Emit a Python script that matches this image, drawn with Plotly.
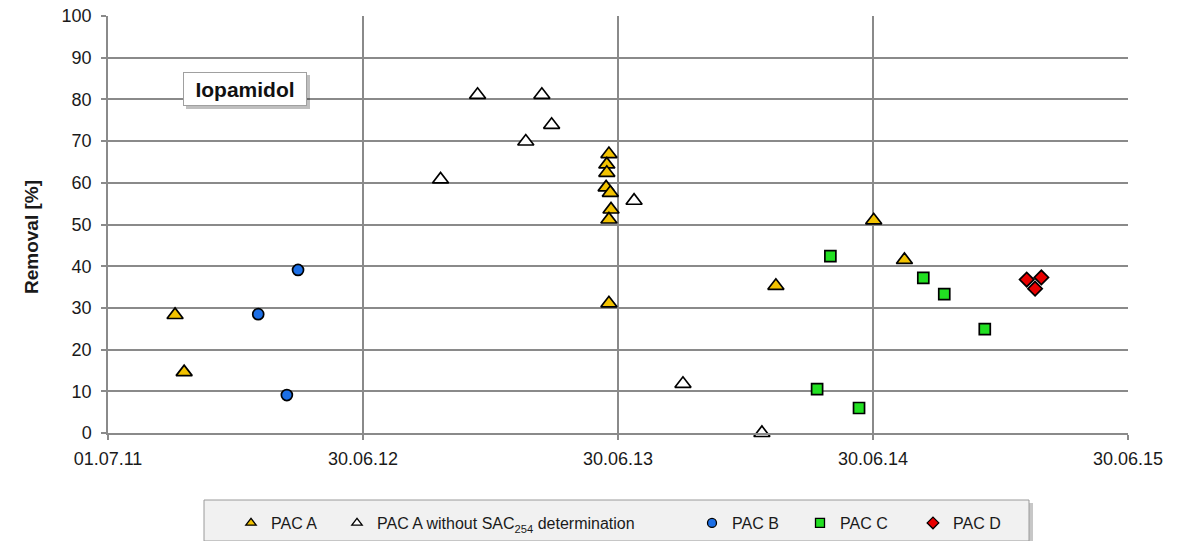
import plotly.graph_objects as go

# ---------------- data ----------------
pac_a_dates = ["2011-10-05", "2011-10-18", "2013-06-17", "2013-06-14", "2013-06-14",
               "2013-06-13", "2013-06-19", "2013-06-20", "2013-06-17", "2013-06-17",
               "2014-02-11", "2014-07-01", "2014-08-14"]
pac_a_vals = [28.3, 14.6, 66.9, 64.4, 62.4, 58.9, 57.6, 53.6, 51.2, 31.1, 35.3, 51.0, 41.5]

pac_a_nosac_dates = ["2012-10-19", "2012-12-11", "2013-02-18", "2013-03-13", "2013-03-27",
                     "2013-07-23", "2013-10-01", "2014-01-22"]
pac_a_nosac_vals = [60.8, 81.1, 69.9, 81.1, 73.9, 55.7, 11.8, 0.0]

pac_b_dates = ["2012-02-01", "2012-03-13", "2012-03-29"]
pac_b_vals = [28.5, 9.1, 39.1]

pac_c_dates = ["2014-04-11", "2014-04-30", "2014-06-10", "2014-09-10", "2014-10-10", "2014-12-07"]
pac_c_vals = [10.5, 42.4, 6.0, 37.2, 33.3, 24.9]

pac_d_dates = ["2015-02-05", "2015-02-17", "2015-02-26"]
pac_d_vals = [36.8, 34.6, 37.3]

x_tick_dates = ["2011-07-01", "2012-06-30", "2013-06-30", "2014-06-30", "2015-06-30"]
x_tick_labels = ["01.07.11", "30.06.12", "30.06.13", "30.06.14", "30.06.15"]

series_names = ["PAC A", "PAC A without SAC<sub>254</sub> determination", "PAC B", "PAC C", "PAC D"]

# ---------------- figure ----------------
FONT = "Liberation Sans, Arial, sans-serif"
OFF = 8  # default page (body) margin in the browser
W, H = 1177 - OFF, 541 - OFF
# plot area in page pixels: x 108..1128, y 16..433
ML, MT = 108 - OFF, 16 - OFF
MR = W - (1128 - OFF)
MB = H - (433 - OFF)
PW, PH = 1128 - 108, 433 - 16

def px_x(p):  # page pixel -> paper fraction
    return (p - 108) / PW

def px_y(p):
    return (433 - p) / PH

styles = [
    dict(symbol="triangle-up", color="#F2C200", size=14),
    dict(symbol="triangle-up", color="#FFFFFF", size=14),
    dict(symbol="circle", color="#1C6FE6", size=11),
    dict(symbol="square", color="#22E022", size=11),
    dict(symbol="diamond", color="#E80000", size=11),
]
datasets = [
    (pac_a_dates, pac_a_vals),
    (pac_a_nosac_dates, pac_a_nosac_vals),
    (pac_b_dates, pac_b_vals),
    (pac_c_dates, pac_c_vals),
    (pac_d_dates, pac_d_vals),
]

fig = go.Figure()
for (xs, ys), st, name in zip(datasets, styles, series_names):
    fig.add_trace(go.Scatter(
        x=xs, y=ys, mode="markers", name=name, showlegend=False, cliponaxis=False,
        marker=dict(symbol=st["symbol"], color=st["color"], size=st["size"],
                    line=dict(color="black", width=1.7)),
    ))

# legend proxies (smaller markers), one legend each for exact placement
ref_marker_px = [253, 359, 714, 822, 935]
legend_keys = ["legend", "legend2", "legend3", "legend4", "legend5"]
for st, name, key in zip(styles, series_names, legend_keys):
    fig.add_trace(go.Scatter(
        x=[None], y=[None], mode="markers", name=name, legend=key,
        marker=dict(symbol=st["symbol"], color=st["color"], size=9,
                    line=dict(color="black", width=1.3)),
    ))

legend_layout = {}
for key, mpx in zip(legend_keys, ref_marker_px):
    legend_layout[key] = dict(
        x=px_x(mpx - 22), xanchor="left", y=px_y(523), yanchor="middle",
        bgcolor="rgba(0,0,0,0)", borderwidth=0, itemwidth=30,
        font=dict(family=FONT, size=16, color="#1a1a1a"),
    )

axis_common = dict(
    showgrid=True, gridcolor="#8a8a8a", gridwidth=1.5,
    showline=True, linecolor="#8a8a8a", linewidth=1.5,
    ticks="outside", ticklen=5, tickcolor="#8a8a8a", tickwidth=1.5,
    zeroline=False, ticklabeloverflow="allow",
    tickfont=dict(family=FONT, size=18, color="#1a1a1a"),
)

fig.update_layout(
    width=W, height=H,
    margin=dict(l=ML, r=MR, t=MT, b=MB, autoexpand=False),
    paper_bgcolor="white", plot_bgcolor="white",
    xaxis=dict(type="date", range=[x_tick_dates[0], x_tick_dates[-1]],
               tickvals=x_tick_dates, ticktext=x_tick_labels,
               ticklabelstandoff=4, **axis_common),
    yaxis=dict(range=[0, 100], tickvals=list(range(0, 101, 10)), ticklabelstandoff=6,
               **axis_common),
    **legend_layout,
)

# y-axis title as an annotation for exact placement
fig.add_annotation(text="<b>Removal [%]</b>", xref="paper", yref="paper",
                   x=px_x(31), y=px_y(237), xanchor="center", yanchor="middle",
                   textangle=-90, showarrow=False,
                   font=dict(family=FONT, size=19, color="#1a1a1a"))

# legend box + shadow
fig.add_shape(type="rect", xref="paper", yref="paper",
              x0=px_x(207), x1=px_x(1033), y0=px_y(503), y1=px_y(545),
              line=dict(width=0), fillcolor="rgba(0,0,0,0.22)", layer="above")
fig.add_shape(type="rect", xref="paper", yref="paper",
              x0=px_x(204), x1=px_x(1029), y0=px_y(500), y1=px_y(541),
              line=dict(color="#9a9a9a", width=1), fillcolor="#f1f1f1", layer="above")

# title box with shadow
fig.add_shape(type="rect", xref="paper", yref="paper",
              x0=px_x(186), x1=px_x(310), y0=px_y(109), y1=px_y(75),
              line=dict(width=0), fillcolor="rgba(0,0,0,0.25)", layer="above")
fig.add_annotation(text="<b>Iopamidol</b>", xref="paper", yref="paper",
                   x=px_x(245), y=px_y(89), xanchor="center", yanchor="middle",
                   showarrow=False,
                   width=116, height=26, borderpad=3, borderwidth=1,
                   bordercolor="#a0a0a0", bgcolor="white",
                   font=dict(family=FONT, size=21, color="#111111"))

fig.write_html("out.html")
